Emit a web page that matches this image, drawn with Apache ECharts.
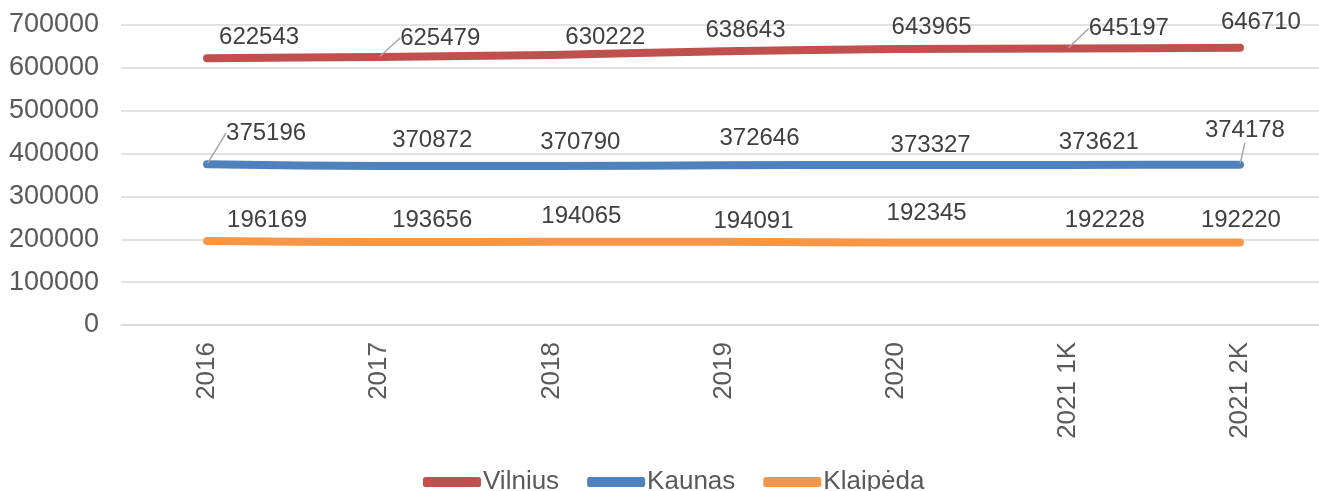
<!DOCTYPE html>
<html>
<head>
<meta charset="utf-8">
<script src="https://cdn.jsdelivr.net/npm/echarts@6/dist/echarts.min.js"></script>
<style>
  html, body { margin: 0; padding: 0; background: #fff; }
  #chart { width: 1319px; height: 491px; }
</style>
</head>
<body>
<div id="chart"></div>
<script>
// kategorijos (metai)
const categories = ['2016', '2017', '2018', '2019', '2020', '2021 1K', '2021 2K'];

// gyventojų skaičius
const vilnius = [622543, 625479, 630222, 638643, 643965, 645197, 646710];
const kaunas = [375196, 370872, 370790, 372646, 373327, 373621, 374178];
const klaipeda = [196169, 193656, 194065, 194091, 192345, 192228, 192220];

const seriesNames = ['Vilnius', 'Kaunas', 'Klaipėda'];
const seriesColors = ['#C0504D', '#4F81BD', '#F79646'];

// etikečių poslinkiai nuo taško (px), kaip originale
const labelShift = [
    [[52, -21], [61, -19], [54, -18], [22, -21], [36, -22], [61, -20], [21, -25]],
    [[59, -31], [53, -26], [29, -24], [36, -27], [35, -20], [31, -23], [5, -34]],
    [[60, -21], [53, -22], [30, -25], [30, -20], [31, -29], [37, -22], [1, -22]]
];
// kur rodoma vedamoji linija
const leaderLines = [[1, 5], [0, 6], []];

const FONT = 'Liberation Sans, Arial, sans-serif';

function buildSeries(values, idx) {
    return {
        name: seriesNames[idx],
        type: 'line',
        smooth: 0.25,
        symbol: 'circle',
        symbolSize: 2,
        showSymbol: true,
        itemStyle: { color: seriesColors[idx] },
        lineStyle: { width: 8, color: seriesColors[idx], cap: 'round', join: 'round' },
        data: values.map((v, i) => ({
            value: v,
            labelLine: { show: leaderLines[idx].includes(i) }
        })),
        label: {
            show: true,
            position: 'inside',
            color: '#404040',
            fontSize: 24,
            fontFamily: FONT
        },
        labelLine: { show: false, lineStyle: { color: '#a6a6a6', width: 1.5 } },
        labelLayout: function (params) {
            const s = labelShift[idx][params.dataIndex];
            const cx = params.rect.x + params.rect.width / 2;
            const cy = params.rect.y + params.rect.height / 2;
            return {
                x: cx + s[0],
                y: cy + s[1],
                align: 'center',
                verticalAlign: 'middle'
            };
        },
        emphasis: { disabled: true },
        animation: false
    };
}

const chart = echarts.init(document.getElementById('chart'));
chart.setOption({
    backgroundColor: '#fff',
    animation: false,
    grid: { left: 121, top: 25, width: 1205, height: 300, containLabel: false, outerBoundsMode: 'none' },
    xAxis: {
        type: 'category',
        data: categories,
        boundaryGap: true,
        axisLine: { lineStyle: { color: '#d9d9d9', width: 1.5 } },
        axisTick: { show: false },
        axisLabel: {
            rotate: 90,
            margin: 17,
            color: '#595959',
            fontSize: 26,
            fontFamily: FONT
        }
    },
    yAxis: {
        type: 'value',
        min: 0,
        max: 700000,
        interval: 100000,
        axisLine: { show: false },
        axisTick: { show: false },
        splitLine: { lineStyle: { color: '#d9d9d9', width: 1.5 } },
        axisLabel: {
            margin: 22,
            color: '#595959',
            fontSize: 27,
            fontFamily: FONT,
            formatter: v => String(v)
        }
    },
    legend: {
        left: 418,
        top: 464,
        itemWidth: 58,
        itemHeight: 10,
        itemGap: 28,
        icon: 'roundRect',
        textStyle: { color: '#595959', fontSize: 26, fontFamily: FONT, padding: [0, 0, 0, -3] },
        data: seriesNames
    },
    series: [vilnius, kaunas, klaipeda].map(buildSeries)
});
window.addEventListener('resize', () => chart.resize());
</script>
</body>
</html>
